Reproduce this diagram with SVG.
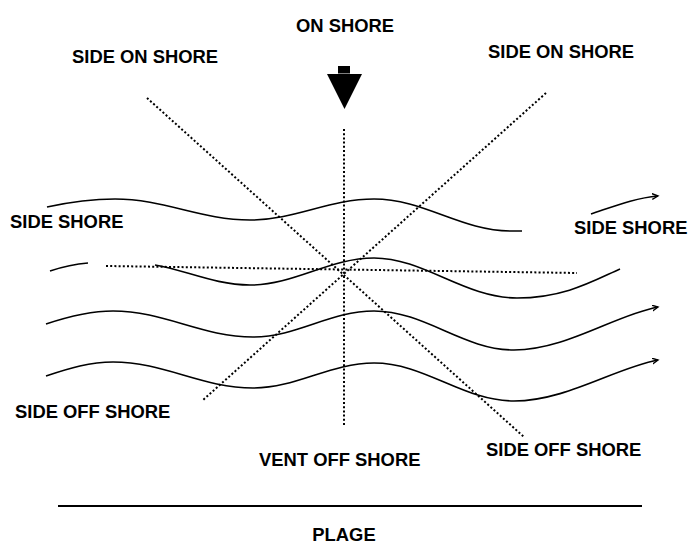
<svg xmlns="http://www.w3.org/2000/svg" width="688" height="545" viewBox="0 0 688 545">
<style>
.t{font-family:"Liberation Sans",Arial,sans-serif;font-weight:bold;font-size:18.4px;fill:#000}
.w{fill:none;stroke:#000;stroke-width:1.6}
.d{fill:none;stroke:#000;stroke-width:2;stroke-dasharray:2 2.2}
</style>
<defs>
<marker id="ah" markerUnits="userSpaceOnUse" markerWidth="10" markerHeight="10" refX="6" refY="3" orient="auto">
<path d="M0,0 L6,3 L0,6" fill="none" stroke="#000" stroke-width="1.4"/>
</marker>
</defs>
<rect width="688" height="545" fill="#fff"/>
<g id="waves">
<path class="w" d="M47,207 C70,202 92,199 115,199 C164,199 201,220 250,220 C295,220 329,199 374,199 C424,199 461,231 511,231 L522,231"/>
<path class="w" d="M591,214 C615,206 635,198 658,196" marker-end="url(#ah)"/>
<path class="w" d="M50,271 C62,267 75,264 88,263"/>
<path class="w" d="M155,265 C185,270 215,285 250,285 C295,285 329,258 374,258 C424,258 464,298 517,298 C565,298 595,280 620,269"/>
<path class="w" d="M46,324 C70,316 90,311 113,311 C164,311 202,337 253,337 C297,337 330,311 374,311 C425,311 463,350 514,350 C566,350 615,315 658,307" marker-end="url(#ah)"/>
<path class="w" d="M46,376 C70,368 90,362 113,362 C164,362 202,388 253,388 C297,388 330,363 374,363 C425,363 463,401 514,401 C566,401 615,368 658,360" marker-end="url(#ah)"/>
</g>
<g id="connectors">
<line class="d" x1="344" y1="129" x2="344" y2="425"/>
<line class="d" x1="106" y1="266" x2="577" y2="273"/>
<line class="d" x1="147" y1="98" x2="524" y2="437"/>
<line class="d" x1="546" y1="93" x2="203" y2="400"/>
</g>
<g id="wind-arrow">
<rect x="338" y="66" width="12" height="7.5" fill="#000"/>
<polygon points="327,74 362,74 344.5,109" fill="#000"/>
</g>
<g id="beach">
<line x1="58" y1="506" x2="642" y2="506" stroke="#000" stroke-width="1.8"/>
</g>
<g id="labels">
<text class="t" x="296" y="31.5">ON SHORE</text>
<text class="t" x="72" y="63.3">SIDE ON SHORE</text>
<text class="t" x="488" y="58.3">SIDE ON SHORE</text>
<text class="t" x="10" y="228.3">SIDE SHORE</text>
<text class="t" x="574" y="234">SIDE SHORE</text>
<text class="t" x="15" y="417.7">SIDE OFF SHORE</text>
<text class="t" x="486" y="456">SIDE OFF SHORE</text>
<text class="t" x="259" y="466">VENT OFF SHORE</text>
<text class="t" x="344" y="540.5" text-anchor="middle">PLAGE</text>
</g>
</svg>
